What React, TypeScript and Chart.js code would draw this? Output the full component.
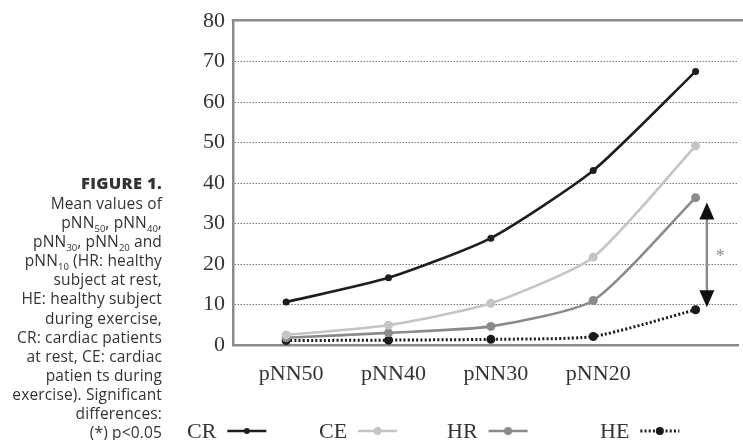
import React, { useEffect, useRef } from "react";
import { Chart, registerables } from "chart.js";
Chart.register(...registerables);

// ---- data ----
const categories = ["pNN50", "pNN40", "pNN30", "pNN20", "pNN10"];
const tickLabels = ["pNN50", "pNN40", "pNN30", "pNN20", ""];
const seriesNames = ["CR", "CE", "HR", "HE"];
const CR = [10.6, 16.6, 26.4, 43.1, 67.6];
const CE = [2.5, 4.9, 10.3, 21.7, 49.2];
const HR = [1.8, 3.0, 4.6, 11.0, 36.4];
const HE = [1.1, 1.2, 1.4, 2.1, 8.7];
const yMin = 0;
const yMax = 80;
const yStep = 10;
// significance arrow (data units): x position, from / to values, label
const sigX = 4.11;
const sigFrom = 35.2;
const sigTo = 9.3;
const sigLabel = "*";

const SERIF = '"Liberation Serif", "Times New Roman", serif';
const GRAY_AXIS = "#8a8a8a";

const legendX = [187, 319, 447, 600];

const overlayPlugin = {
  id: "overlay",
  afterDraw(chart: any) {
    const { ctx, chartArea, scales } = chart;
    const xs = scales.x;
    const ys = scales.y;
    ctx.save();
    // top frame
    ctx.strokeStyle = GRAY_AXIS;
    ctx.lineWidth = 2.5;
    ctx.beginPath();
    ctx.moveTo(chartArea.left - 1.25, chartArea.top - 1);
    ctx.lineTo(chart.width, chartArea.top - 1);
    ctx.stroke();

    // significance arrow
    const ax = xs.getPixelForValue(sigX);
    const y1 = ys.getPixelForValue(sigFrom);
    const y2 = ys.getPixelForValue(sigTo);
    const hw = 7.5;
    const hh = 17;
    ctx.strokeStyle = "#8c8c8c";
    ctx.lineWidth = 2.5;
    ctx.beginPath();
    ctx.moveTo(ax, y1 + hh - 2);
    ctx.lineTo(ax, y2 - hh + 2);
    ctx.stroke();
    ctx.fillStyle = "#111";
    ctx.beginPath();
    ctx.moveTo(ax, y1);
    ctx.lineTo(ax - hw, y1 + hh);
    ctx.lineTo(ax + hw, y1 + hh);
    ctx.closePath();
    ctx.fill();
    ctx.beginPath();
    ctx.moveTo(ax, y2);
    ctx.lineTo(ax - hw, y2 - hh);
    ctx.lineTo(ax + hw, y2 - hh);
    ctx.closePath();
    ctx.fill();
    ctx.fillStyle = "#888";
    ctx.font = `18px ${SERIF}`;
    ctx.textAlign = "left";
    ctx.textBaseline = "middle";
    ctx.fillText(sigLabel, ax + 9, ys.getPixelForValue((sigFrom + sigTo) / 2) + 2);

    // legend: text then line sample
    const ly = 431;
    ctx.font = `22px ${SERIF}`;
    ctx.textBaseline = "alphabetic";
    chart.data.datasets.forEach((ds: any, i: number) => {
      const tx = legendX[i];
      ctx.fillStyle = "#333";
      ctx.textAlign = "left";
      ctx.fillText(ds.label, tx, ly + 7);
      const tw = ctx.measureText(ds.label).width;
      const sx = tx + tw + 11;
      const ex = sx + 39;
      ctx.strokeStyle = ds.borderColor;
      ctx.lineWidth = ds.borderWidth;
      ctx.setLineDash(ds.borderDash || []);
      ctx.beginPath();
      ctx.moveTo(sx, ly);
      ctx.lineTo(ex, ly);
      ctx.stroke();
      ctx.setLineDash([]);
      ctx.fillStyle = ds.pointBackgroundColor;
      ctx.beginPath();
      ctx.arc((sx + ex) / 2, ly, ds.pointRadius - 0.5, 0, Math.PI * 2);
      ctx.fill();
    });
    ctx.restore();
  },
};

function toPoints(arr: number[]) {
  return categories.map((_, i) => ({ x: i, y: arr[i] }));
}

export default function App() {
  const ref = useRef<HTMLCanvasElement | null>(null);
  useEffect(() => {
    if (!ref.current) return;
    const styles = [
      { color: "#1e1e1e", r: 3.5, dash: [] as number[], w: 2.6 },
      { color: "#c4c4c4", r: 4.5, dash: [] as number[], w: 2.6 },
      { color: "#8a8a8a", r: 4.5, dash: [] as number[], w: 2.6 },
      { color: "#1a1a1a", r: 4.5, dash: [2, 2.2], w: 3 },
    ];
    const values = [CR, CE, HR, HE];
    const chart = new Chart(ref.current, {
      type: "line",
      data: {
        datasets: seriesNames.map((name, i) => ({
          label: name,
          data: toPoints(values[i]),
          borderColor: styles[i].color,
          backgroundColor: styles[i].color,
          pointBackgroundColor: styles[i].color,
          pointBorderColor: styles[i].color,
          pointRadius: styles[i].r,
          pointBorderWidth: 0,
          borderWidth: styles[i].w,
          borderDash: styles[i].dash,
          tension: 0.2,
          fill: false,
          clip: false as any,
        })),
      },
      options: {
        responsive: false,
        animation: false,
        events: [],
        layout: { padding: { left: 180, top: 21, right: 0, bottom: 0 } },
        plugins: { legend: { display: false }, tooltip: { enabled: false } },
        scales: {
          x: {
            type: "linear",
            min: -0.519,
            max: 4.419,
            grid: { display: false, drawTicks: false },
            border: { display: true, color: GRAY_AXIS, width: 2.5 },
            ticks: {
              stepSize: 1,
              includeBounds: false,
              autoSkip: false,
              maxRotation: 0,
              padding: 16,
              labelOffset: 5,
              color: "#333",
              font: { family: SERIF, size: 22 },
              callback: (v: any) => (Number.isInteger(v) ? tickLabels[v] ?? "" : ""),
            },
            afterFit: (s: any) => {
              s.height = 95;
            },
          },
          y: {
            min: yMin,
            max: yMax,
            grid: {
              drawTicks: false,
              lineWidth: 1,
              color: (c: any) =>
                c.tick && (c.tick.value === yMin || c.tick.value === yMax) ? "rgba(0,0,0,0)" : "#7a7a7a",
            },
            border: { display: true, color: GRAY_AXIS, width: 2.5, dash: [1.5, 1.5] },
            ticks: {
              stepSize: yStep,
              padding: 8,
              color: "#333",
              font: { family: SERIF, size: 22 },
            },
            afterFit: (s: any) => {
              s.width = 53;
            },
          },
        },
      },
      plugins: [overlayPlugin],
    });
    return () => chart.destroy();
  }, []);

  const cap: React.CSSProperties = {
    position: "absolute",
    left: 0,
    top: 171,
    width: 162,
    textAlign: "right",
    fontFamily: '"Open Sans", "Noto Sans", sans-serif',
    fontSize: 15.5,
    letterSpacing: "0.15px",
    lineHeight: "19.1px",
    color: "#333",
    whiteSpace: "nowrap",
  };
  const sub: React.CSSProperties = { fontSize: 9.5, lineHeight: 0, verticalAlign: "-4px", letterSpacing: 0 };
  return (
    <div style={{ position: "absolute", left: 0, top: 0, width: 743, height: 440, background: "#fff", overflow: "hidden" }}>
      <canvas ref={ref} width={743} height={440} style={{ position: "absolute", left: 0, top: 0, width: 743, height: 440 }} />
      <div style={cap}>
        <div style={{ fontWeight: 800, fontSize: 16.5, lineHeight: "23px", letterSpacing: "0.3px" }}>FIGURE 1.</div>
        <div>Mean values of</div>
        <div>pNN<span style={sub}>50</span>, pNN<span style={sub}>40</span>,</div>
        <div>pNN<span style={sub}>30</span>, pNN<span style={sub}>20</span> and</div>
        <div>pNN<span style={sub}>10</span> (HR: healthy</div>
        <div>subject at rest,</div>
        <div>HE: healthy subject</div>
        <div>during exercise,</div>
        <div>CR: cardiac patients</div>
        <div>at rest, CE: cardiac</div>
        <div>patien ts during</div>
        <div>exercise). Significant</div>
        <div>differences:</div>
        <div>(*) p&lt;0.05</div>
      </div>
    </div>
  );
}
